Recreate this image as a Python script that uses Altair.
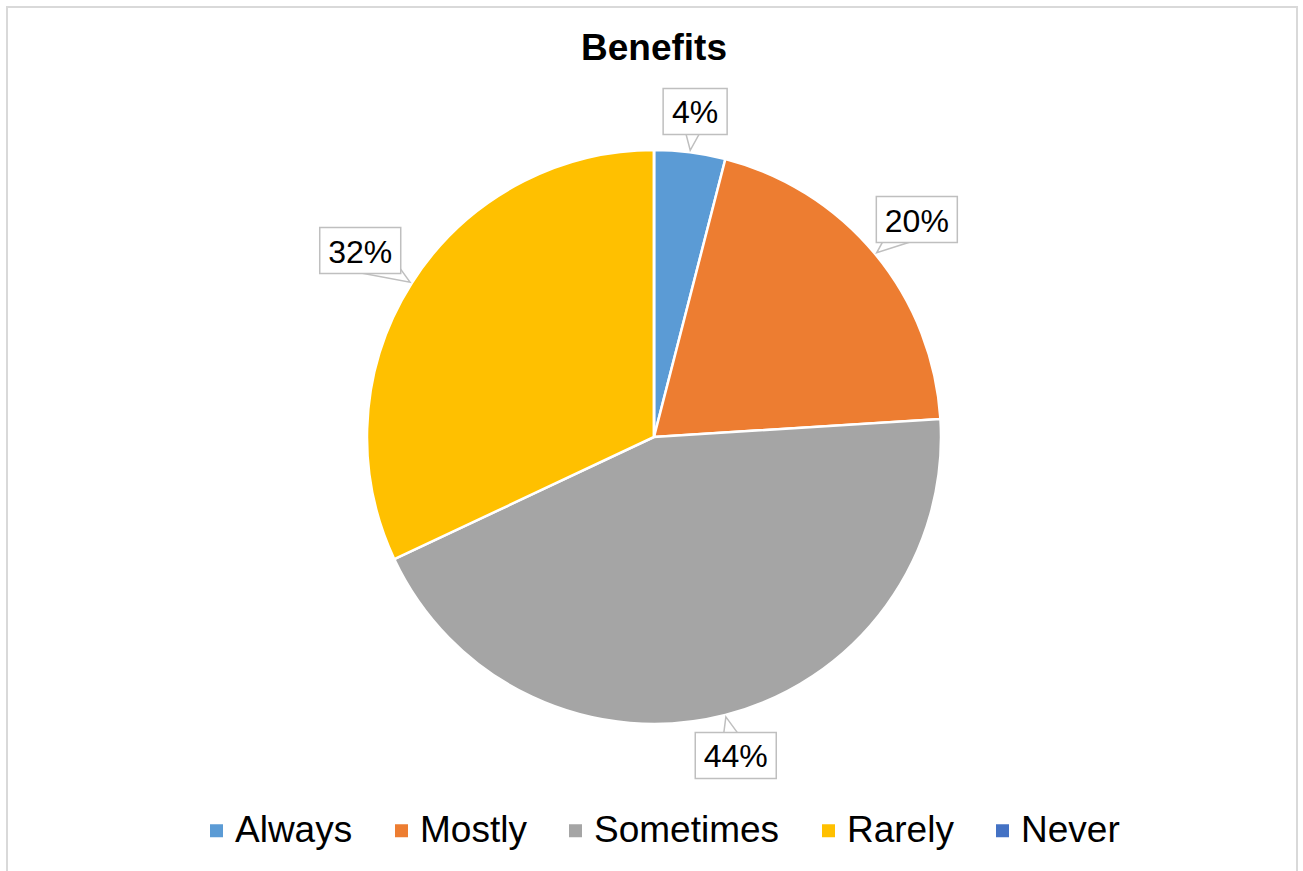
import altair as alt
import pandas as pd

categories = ["Always", "Mostly", "Sometimes", "Rarely", "Never"]
values = [4, 20, 44, 32, 0]
labels = ["4%", "20%", "44%", "32%", ""]
colors = ["#5B9BD5", "#ED7D31", "#A5A5A5", "#FFC000", "#4472C4"]
title_text = "Benefits"

df = pd.DataFrame({
    "category": categories,
    "value": values,
    "label": labels,
    "order": list(range(len(categories))),
})

W, H = 1303, 871
CX, CY = 654, 437
R_PIE = 287
GAP = 18
HH = 23
FONT = "Liberation Sans, Arial, sans-serif"

color_scale = alt.Scale(domain=categories, range=colors)

base = alt.Chart(df)

pie = base.mark_arc(outerRadius=R_PIE, stroke="white", strokeWidth=2.5).encode(
    theta=alt.Theta("value:Q", stack=True),
    color=alt.Color(
        "category:N",
        scale=color_scale,
        sort=categories,
        legend=alt.Legend(
            title=None,
            orient="none",
            direction="horizontal",
            legendX=198,
            legendY=812,
            symbolType="square",
            symbolSize=169,
            symbolStrokeWidth=0,
            labelFontSize=37,
            labelFont=FONT,
            labelColor="#000000",
            labelLimit=0,
            labelOffset=0,
            columnPadding=30,
            padding=0,
        ),
    ),
    order=alt.Order("order:Q"),
    x=alt.value(CX),
    y=alt.value(CY),
)

lab = (
    base.transform_filter("datum.value > 0")
    .transform_joinaggregate(total="sum(value)")
    .transform_window(cum="sum(value)", sort=[alt.SortField("order")], frame=[None, 0])
    .transform_calculate(
        mid="(datum.cum - datum.value / 2) / datum.total * 2 * PI",
        middeg="(datum.cum - datum.value / 2) / datum.total * 360",
        bw="17 * length(datum.label) + 30",
    )
    .transform_calculate(
        ext=f"min((datum.bw / 2) / max(abs(sin(datum.mid)), 0.001), {HH} / max(abs(cos(datum.mid)), 0.001))",
    )
    .transform_calculate(
        rl=f"{R_PIE} + {GAP} + datum.ext",
    )
    .transform_calculate(
        cx=f"{CX} + datum.rl * sin(datum.mid)",
        cy=f"{CY} - datum.rl * cos(datum.mid)",
        tx=f"{CX} + {R_PIE + 27} * sin(datum.mid)",
        ty=f"{CY} - {R_PIE + 27} * cos(datum.mid)",
    )
    .transform_calculate(
        x1="datum.cx - datum.bw / 2",
        x2="datum.cx + datum.bw / 2",
        y1=f"datum.cy - {HH}",
        y2=f"datum.cy + {HH}",
    )
)

tail = lab.mark_point(
    shape="M -0.8 -1 L 0 1 L 0.8 -1 Z",
    size=2500,
    filled=True,
    fill="white",
    stroke="#BFBFBF",
    strokeWidth=1.5,
    opacity=1,
).encode(
    x=alt.X("tx:Q", scale=None),
    y=alt.Y("ty:Q", scale=None),
    angle=alt.Angle("middeg:Q", scale=None),
)

box = lab.mark_rect(fill="white", stroke="#BFBFBF", strokeWidth=1.5).encode(
    x=alt.X("x1:Q", scale=None),
    x2="x2:Q",
    y=alt.Y("y1:Q", scale=None),
    y2="y2:Q",
)

txt = lab.mark_text(fontSize=32, font=FONT, color="#000000", baseline="middle", dy=2).encode(
    x=alt.X("cx:Q", scale=None),
    y=alt.Y("cy:Q", scale=None),
    text="label:N",
)

one = alt.Chart(pd.DataFrame({"t": [title_text]}))

title = one.mark_text(fontSize=37, fontWeight="bold", font=FONT, color="#000000", baseline="alphabetic").encode(
    x=alt.value(CX),
    y=alt.value(60),
    text="t:N",
)

frame = one.mark_rect(fill=None, fillOpacity=0, stroke="#D9D9D9", strokeWidth=2).encode(
    x=alt.value(7), x2=alt.value(1297), y=alt.value(7), y2=alt.value(900)
)

chart = (
    alt.layer(frame, pie, tail, box, txt, title)
    .properties(width=W, height=H, autosize=alt.AutoSizeParams(type="none"), padding=0)
    .configure_view(stroke=None)
)

chart.save("out.html", embed_options={"renderer": "svg", "actions": False})
